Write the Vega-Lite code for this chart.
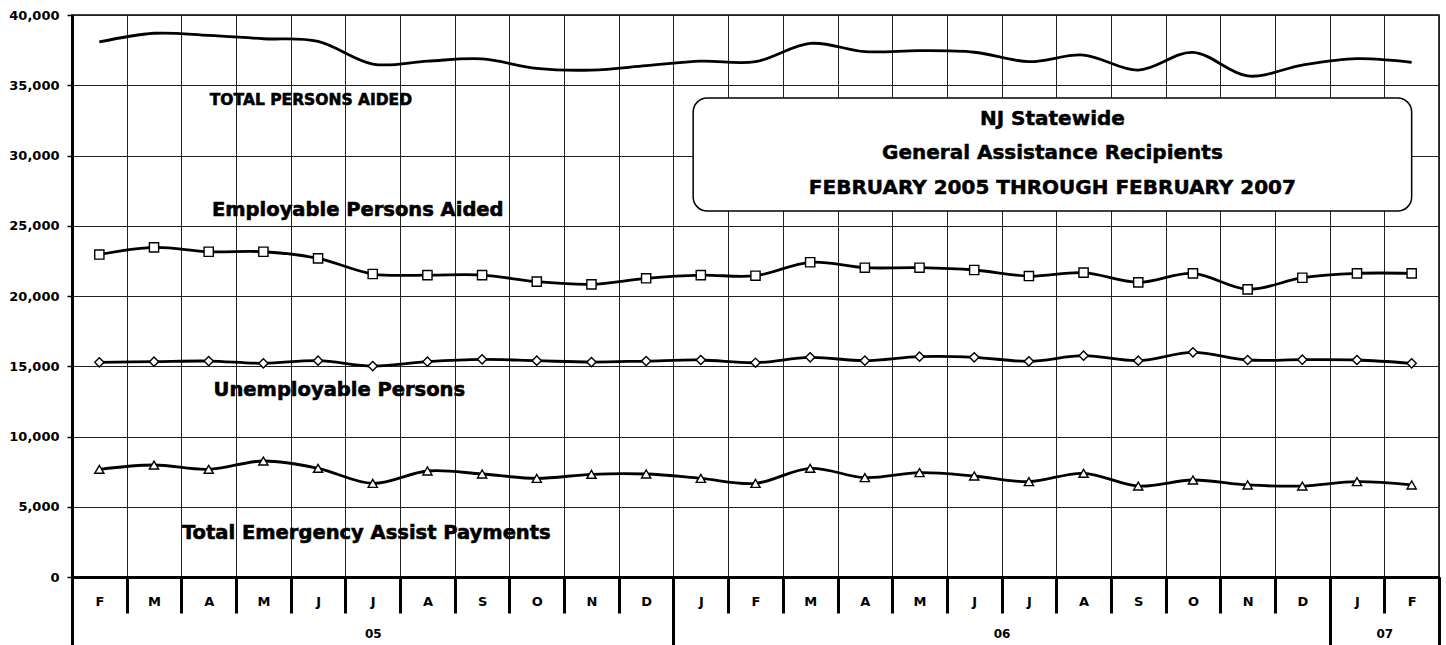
{
  "$schema": "https://vega.github.io/schema/vega-lite/v6.json",
  "width": 1367,
  "height": 562,
  "autosize": {"type": "none"},
  "padding": {"left": 72, "top": 15, "right": 7, "bottom": 68},
  "background": "white",
  "config": {
    "view": {"stroke": "#000", "strokeWidth": 1.5},
    "axis": {
      "labelFont": "DejaVu Sans",
      "labelFontWeight": "bold",
      "labelFontSize": 13,
      "labelColor": "#000",
      "labelFlush": false,
      "labelOverlap": false
    }
  },
  "datasets": {
    "series": [
      {"month": "2005-02", "m": 1, "series": "Total", "value": 38080},
      {"month": "2005-03", "m": 2, "series": "Total", "value": 38700},
      {"month": "2005-04", "m": 3, "series": "Total", "value": 38550},
      {"month": "2005-05", "m": 4, "series": "Total", "value": 38310},
      {"month": "2005-06", "m": 5, "series": "Total", "value": 38120},
      {"month": "2005-07", "m": 6, "series": "Total", "value": 36510},
      {"month": "2005-08", "m": 7, "series": "Total", "value": 36720},
      {"month": "2005-09", "m": 8, "series": "Total", "value": 36870},
      {"month": "2005-10", "m": 9, "series": "Total", "value": 36200},
      {"month": "2005-11", "m": 10, "series": "Total", "value": 36080},
      {"month": "2005-12", "m": 11, "series": "Total", "value": 36390},
      {"month": "2006-01", "m": 12, "series": "Total", "value": 36720},
      {"month": "2006-02", "m": 13, "series": "Total", "value": 36680},
      {"month": "2006-03", "m": 14, "series": "Total", "value": 37980},
      {"month": "2006-04", "m": 15, "series": "Total", "value": 37390},
      {"month": "2006-05", "m": 16, "series": "Total", "value": 37460},
      {"month": "2006-06", "m": 17, "series": "Total", "value": 37350},
      {"month": "2006-07", "m": 18, "series": "Total", "value": 36680},
      {"month": "2006-08", "m": 19, "series": "Total", "value": 37150},
      {"month": "2006-09", "m": 20, "series": "Total", "value": 36080},
      {"month": "2006-10", "m": 21, "series": "Total", "value": 37340},
      {"month": "2006-11", "m": 22, "series": "Total", "value": 35660},
      {"month": "2006-12", "m": 23, "series": "Total", "value": 36440},
      {"month": "2007-01", "m": 24, "series": "Total", "value": 36890},
      {"month": "2007-02", "m": 25, "series": "Total", "value": 36630},
      {"month": "2005-02", "m": 1, "series": "Employable", "value": 22950},
      {"month": "2005-03", "m": 2, "series": "Employable", "value": 23465},
      {"month": "2005-04", "m": 3, "series": "Employable", "value": 23150},
      {"month": "2005-05", "m": 4, "series": "Employable", "value": 23150},
      {"month": "2005-06", "m": 5, "series": "Employable", "value": 22680},
      {"month": "2005-07", "m": 6, "series": "Employable", "value": 21565},
      {"month": "2005-08", "m": 7, "series": "Employable", "value": 21490},
      {"month": "2005-09", "m": 8, "series": "Employable", "value": 21490},
      {"month": "2005-10", "m": 9, "series": "Employable", "value": 21020},
      {"month": "2005-11", "m": 10, "series": "Employable", "value": 20830},
      {"month": "2005-12", "m": 11, "series": "Employable", "value": 21260},
      {"month": "2006-01", "m": 12, "series": "Employable", "value": 21490},
      {"month": "2006-02", "m": 13, "series": "Employable", "value": 21445},
      {"month": "2006-03", "m": 14, "series": "Employable", "value": 22400},
      {"month": "2006-04", "m": 15, "series": "Employable", "value": 22015},
      {"month": "2006-05", "m": 16, "series": "Employable", "value": 22015},
      {"month": "2006-06", "m": 17, "series": "Employable", "value": 21850},
      {"month": "2006-07", "m": 18, "series": "Employable", "value": 21420},
      {"month": "2006-08", "m": 19, "series": "Employable", "value": 21660},
      {"month": "2006-09", "m": 20, "series": "Employable", "value": 20970},
      {"month": "2006-10", "m": 21, "series": "Employable", "value": 21610},
      {"month": "2006-11", "m": 22, "series": "Employable", "value": 20475},
      {"month": "2006-12", "m": 23, "series": "Employable", "value": 21300},
      {"month": "2007-01", "m": 24, "series": "Employable", "value": 21610},
      {"month": "2007-02", "m": 25, "series": "Employable", "value": 21610},
      {"month": "2005-02", "m": 1, "series": "Unemployable", "value": 15280},
      {"month": "2005-03", "m": 2, "series": "Unemployable", "value": 15325},
      {"month": "2005-04", "m": 3, "series": "Unemployable", "value": 15370},
      {"month": "2005-05", "m": 4, "series": "Unemployable", "value": 15210},
      {"month": "2005-06", "m": 5, "series": "Unemployable", "value": 15395},
      {"month": "2005-07", "m": 6, "series": "Unemployable", "value": 15015},
      {"month": "2005-08", "m": 7, "series": "Unemployable", "value": 15325},
      {"month": "2005-09", "m": 8, "series": "Unemployable", "value": 15490},
      {"month": "2005-10", "m": 9, "series": "Unemployable", "value": 15395},
      {"month": "2005-11", "m": 10, "series": "Unemployable", "value": 15300},
      {"month": "2005-12", "m": 11, "series": "Unemployable", "value": 15370},
      {"month": "2006-01", "m": 12, "series": "Unemployable", "value": 15445},
      {"month": "2006-02", "m": 13, "series": "Unemployable", "value": 15250},
      {"month": "2006-03", "m": 14, "series": "Unemployable", "value": 15635},
      {"month": "2006-04", "m": 15, "series": "Unemployable", "value": 15395},
      {"month": "2006-05", "m": 16, "series": "Unemployable", "value": 15680},
      {"month": "2006-06", "m": 17, "series": "Unemployable", "value": 15635},
      {"month": "2006-07", "m": 18, "series": "Unemployable", "value": 15350},
      {"month": "2006-08", "m": 19, "series": "Unemployable", "value": 15750},
      {"month": "2006-09", "m": 20, "series": "Unemployable", "value": 15395},
      {"month": "2006-10", "m": 21, "series": "Unemployable", "value": 15990},
      {"month": "2006-11", "m": 22, "series": "Unemployable", "value": 15445},
      {"month": "2006-12", "m": 23, "series": "Unemployable", "value": 15470},
      {"month": "2007-01", "m": 24, "series": "Unemployable", "value": 15445},
      {"month": "2007-02", "m": 25, "series": "Unemployable", "value": 15210},
      {"month": "2005-02", "m": 1, "series": "Emergency", "value": 7665},
      {"month": "2005-03", "m": 2, "series": "Emergency", "value": 7970},
      {"month": "2005-04", "m": 3, "series": "Emergency", "value": 7665},
      {"month": "2005-05", "m": 4, "series": "Emergency", "value": 8255},
      {"month": "2005-06", "m": 5, "series": "Emergency", "value": 7735},
      {"month": "2005-07", "m": 6, "series": "Emergency", "value": 6665},
      {"month": "2005-08", "m": 7, "series": "Emergency", "value": 7545},
      {"month": "2005-09", "m": 8, "series": "Emergency", "value": 7330},
      {"month": "2005-10", "m": 9, "series": "Emergency", "value": 7020},
      {"month": "2005-11", "m": 10, "series": "Emergency", "value": 7310},
      {"month": "2005-12", "m": 11, "series": "Emergency", "value": 7330},
      {"month": "2006-01", "m": 12, "series": "Emergency", "value": 7020},
      {"month": "2006-02", "m": 13, "series": "Emergency", "value": 6665},
      {"month": "2006-03", "m": 14, "series": "Emergency", "value": 7735},
      {"month": "2006-04", "m": 15, "series": "Emergency", "value": 7070},
      {"month": "2006-05", "m": 16, "series": "Emergency", "value": 7425},
      {"month": "2006-06", "m": 17, "series": "Emergency", "value": 7190},
      {"month": "2006-07", "m": 18, "series": "Emergency", "value": 6785},
      {"month": "2006-08", "m": 19, "series": "Emergency", "value": 7380},
      {"month": "2006-09", "m": 20, "series": "Emergency", "value": 6475},
      {"month": "2006-10", "m": 21, "series": "Emergency", "value": 6905},
      {"month": "2006-11", "m": 22, "series": "Emergency", "value": 6550},
      {"month": "2006-12", "m": 23, "series": "Emergency", "value": 6475},
      {"month": "2007-01", "m": 24, "series": "Emergency", "value": 6785},
      {"month": "2007-02", "m": 25, "series": "Emergency", "value": 6550}
    ],
    "labels": [
      {"text": "TOTAL PERSONS AIDED", "m": 3.02, "value": 33950},
      {"text": "Employable Persons Aided", "m": 3.06, "value": 26120},
      {"text": "Unemployable Persons", "m": 3.09, "value": 13310},
      {"text": "Total Emergency Assist Payments", "m": 2.51, "value": 3130}
    ],
    "box": [
      {"m_start": 11.86, "m_end": 25.0, "top": 34090, "bottom": 26050}
    ],
    "boxtext": [
      {"text": "NJ Statewide", "m": 18.43, "value": 32600},
      {"text": "General Assistance Recipients", "m": 18.43, "value": 30180},
      {"text": "FEBRUARY 2005 THROUGH FEBRUARY 2007", "m": 18.43, "value": 27690}
    ]
  },
  "resolve": {"axis": {"x": "independent"}},
  "layer": [
    {
      "data": {"name": "series"},
      "mark": {"type": "line", "interpolate": "cardinal", "color": "#000", "strokeWidth": 2.8},
      "encoding": {
        "x": {
          "field": "m", "type": "quantitative", "title": null,
          "scale": {"domain": [0.5, 25.5], "nice": false, "zero": false},
          "axis": {
            "orient": "bottom", "title": null,
            "values": [0.5,1.5,2.5,3.5,4.5,5.5,6.5,7.5,8.5,9.5,10.5,11.5,12.5,13.5,14.5,15.5,16.5,17.5,18.5,19.5,20.5,21.5,22.5,23.5,24.5,25.5],
            "grid": true, "gridColor": "#222", "gridWidth": 1,
            "ticks": true, "tickSize": 36, "tickWidth": 3, "tickColor": "#000",
            "labels": false,
            "domain": true, "domainWidth": 3, "domainColor": "#000"
          }
        },
        "y": {
          "field": "value", "type": "quantitative", "title": null,
          "scale": {"domain": [0, 40000], "nice": false},
          "axis": {
            "title": null,
            "values": [0,5000,10000,15000,20000,25000,30000,35000,40000],
            "labelExpr": "format(datum.value, ',')",
            "grid": true, "gridColor": "#222", "gridWidth": 1,
            "tickSize": 5, "tickColor": "#000", "tickWidth": 1.5,
            "labelPadding": 8,
            "domain": true, "domainWidth": 3, "domainColor": "#000"
          }
        },
        "detail": {"field": "series", "type": "nominal"}
      }
    },
    {
      "data": {"name": "series"},
      "transform": [{"filter": "datum.series != 'Total'"}],
      "mark": {"type": "point", "filled": true, "fill": "#fff", "stroke": "#000", "strokeWidth": 1.4, "size": 85, "opacity": 1},
      "encoding": {
        "x": {
          "field": "m", "type": "quantitative", "title": null,
          "axis": {
            "orient": "bottom", "title": null,
            "values": [1,2,3,4,5,6,7,8,9,10,11,12,13,14,15,16,17,18,19,20,21,22,23,24,25],
            "labelExpr": "['F','M','A','M','J','J','A','S','O','N','D','J','F','M','A','M','J','J','A','S','O','N','D','J','F'][datum.value - 1]",
            "ticks": false, "grid": false, "domain": false,
            "labelPadding": 18
          }
        },
        "y": {"field": "value", "type": "quantitative", "title": null},
        "shape": {
          "field": "series", "type": "nominal", "legend": null,
          "scale": {"domain": ["Employable", "Unemployable", "Emergency"], "range": ["square", "diamond", "triangle-up"]}
        }
      }
    },
    {
      "data": {"name": "box"},
      "mark": {"type": "rect", "fill": "#fff", "stroke": "#000", "strokeWidth": 1.5, "cornerRadius": 14},
      "encoding": {
        "x": {
          "field": "m_start", "type": "quantitative", "title": null,
          "axis": {
            "orient": "bottom", "title": null,
            "values": [0.5, 11.5, 23.5, 25.5],
            "ticks": true, "tickSize": 68, "tickWidth": 3, "tickColor": "#000",
            "labels": false, "grid": false, "domain": false
          }
        },
        "x2": {"field": "m_end"},
        "y": {"field": "top", "type": "quantitative", "title": null},
        "y2": {"field": "bottom"}
      }
    },
    {
      "data": {"name": "boxtext"},
      "mark": {"type": "text", "font": "DejaVu Sans", "fontWeight": "bold", "fontSize": 20, "align": "center", "baseline": "middle", "color": "#000", "stroke": "#000", "strokeWidth": 0.5},
      "encoding": {
        "x": {
          "field": "m", "type": "quantitative", "title": null,
          "axis": {
            "orient": "bottom", "title": null,
            "values": [6, 17.5, 24.5],
            "labelExpr": "datum.value < 10 ? '05' : datum.value < 20 ? '06' : '07'",
            "labelFontSize": 12,
            "ticks": false, "grid": false, "domain": false,
            "labelPadding": 51
          }
        },
        "y": {"field": "value", "type": "quantitative", "title": null},
        "text": {"field": "text"}
      }
    },
    {
      "data": {"name": "labels"},
      "transform": [{"filter": "datum.text == 'TOTAL PERSONS AIDED'"}],
      "mark": {"type": "text", "font": "DejaVu Sans", "fontWeight": "bold", "fontSize": 15.5, "align": "left", "baseline": "middle", "color": "#000", "stroke": "#000", "strokeWidth": 0.6},
      "encoding": {
        "x": {"field": "m", "type": "quantitative", "title": null, "axis": null},
        "y": {"field": "value", "type": "quantitative", "title": null},
        "text": {"field": "text"}
      }
    },
    {
      "data": {"name": "labels"},
      "transform": [{"filter": "datum.text != 'TOTAL PERSONS AIDED'"}],
      "mark": {"type": "text", "font": "DejaVu Sans", "fontWeight": "bold", "fontSize": 19.5, "align": "left", "baseline": "middle", "color": "#000", "stroke": "#000", "strokeWidth": 0.6},
      "encoding": {
        "x": {"field": "m", "type": "quantitative", "title": null, "axis": null},
        "y": {"field": "value", "type": "quantitative", "title": null},
        "text": {"field": "text"}
      }
    }
  ]
}
